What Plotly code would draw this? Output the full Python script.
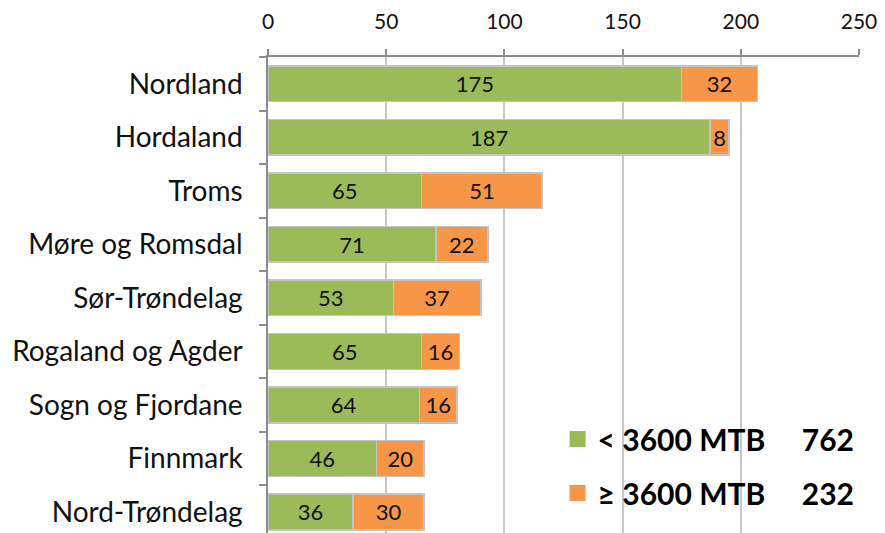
import plotly.graph_objects as go

categories = ["Nordland", "Hordaland", "Troms", "Møre og Romsdal", "Sør-Trøndelag",
              "Rogaland og Agder", "Sogn og Fjordane", "Finnmark", "Nord-Trøndelag"]
below_3600 = [175, 187, 65, 71, 53, 65, 64, 46, 36]
above_3600 = [32, 8, 51, 22, 37, 16, 16, 20, 30]
x_ticks = [0, 50, 100, 150, 200, 250]

GREEN = "#9BBB59"
ORANGE = "#F79646"
FONT = "Lato"

fig = go.Figure()
fig.add_trace(go.Bar(
    y=categories, x=below_3600, orientation="h", name="below",
    marker=dict(color=GREEN, line=dict(color="#C4C4C4", width=1.5)),
    text=below_3600, textposition="inside", insidetextanchor="middle", textangle=0,
    textfont=dict(family=FONT, size=22, color="#111111"),
    showlegend=False, hoverinfo="x+y"))
fig.add_trace(go.Bar(
    y=categories, x=above_3600, orientation="h", name="above",
    marker=dict(color=ORANGE, line=dict(color="#C4C4C4", width=1.5)),
    text=above_3600, textposition="inside", insidetextanchor="middle", textangle=0,
    textfont=dict(family=FONT, size=22, color="#111111"),
    showlegend=False, hoverinfo="x+y"))

fig.add_trace(go.Scatter(x=[None], y=[None], mode="markers",
                         marker=dict(symbol="square", size=16, color=GREEN),
                         name=f"&lt; 3600 MTB{chr(160) * 5}{sum(below_3600)}", legendgroup="a"))
fig.add_trace(go.Scatter(x=[None], y=[None], mode="markers",
                         marker=dict(symbol="square", size=16, color=ORANGE),
                         name=f"≥ 3600 MTB{chr(160) * 5}{sum(above_3600)}", legendgroup="b"))

# white panel that hides the gridlines behind the legend area (as in the original)
fig.add_shape(type="rect", xref="paper", yref="paper", x0=0.46, x1=1.05, y0=-0.05, y1=0.784,
              fillcolor="white", line=dict(width=0), layer="between")
fig.add_shape(type="rect", xref="paper", yref="paper", x0=0.9, x1=1.05, y0=-0.05, y1=0.884,
              fillcolor="white", line=dict(width=0), layer="between")

fig.update_layout(
    width=877, height=525,
    margin=dict(l=260, r=26, t=49, b=0),
    barmode="stack", bargap=0.33,
    plot_bgcolor="white", paper_bgcolor="white",
    font=dict(family=FONT, color="#111111"),
    legend=dict(x=0.49, xanchor="left", y=0.252, yanchor="top",
                font=dict(family=FONT, size=30, color="#000000", weight="bold"),
                traceorder="grouped", tracegroupgap=12, bgcolor="rgba(0,0,0,0)"),
    xaxis=dict(side="top", range=[0, 250], tickvals=x_ticks, ticktext=[str(v) for v in x_ticks],
               showgrid=True, gridcolor="#C8C8C8", gridwidth=1.5,
               showline=True, linecolor="#8C8C8C", linewidth=1.5,
               ticks="outside", ticklen=6, tickcolor="#8C8C8C", tickwidth=1.5,
               ticklabelstandoff=12,
               tickfont=dict(family=FONT, size=21, color="#111111"), zeroline=False, fixedrange=True),
    yaxis=dict(range=[8.395, -0.5], categoryorder="array", categoryarray=categories,
               showgrid=False, showline=True, linecolor="#8C8C8C", linewidth=1.5,
               ticks="outside", ticklen=7, tickcolor="#8C8C8C", tickwidth=1.5,
               tickson="boundaries", ticklabelstandoff=18,
               tickfont=dict(family=FONT, size=28, color="#111111"), fixedrange=True),
)

fig.write_html("out.html")
